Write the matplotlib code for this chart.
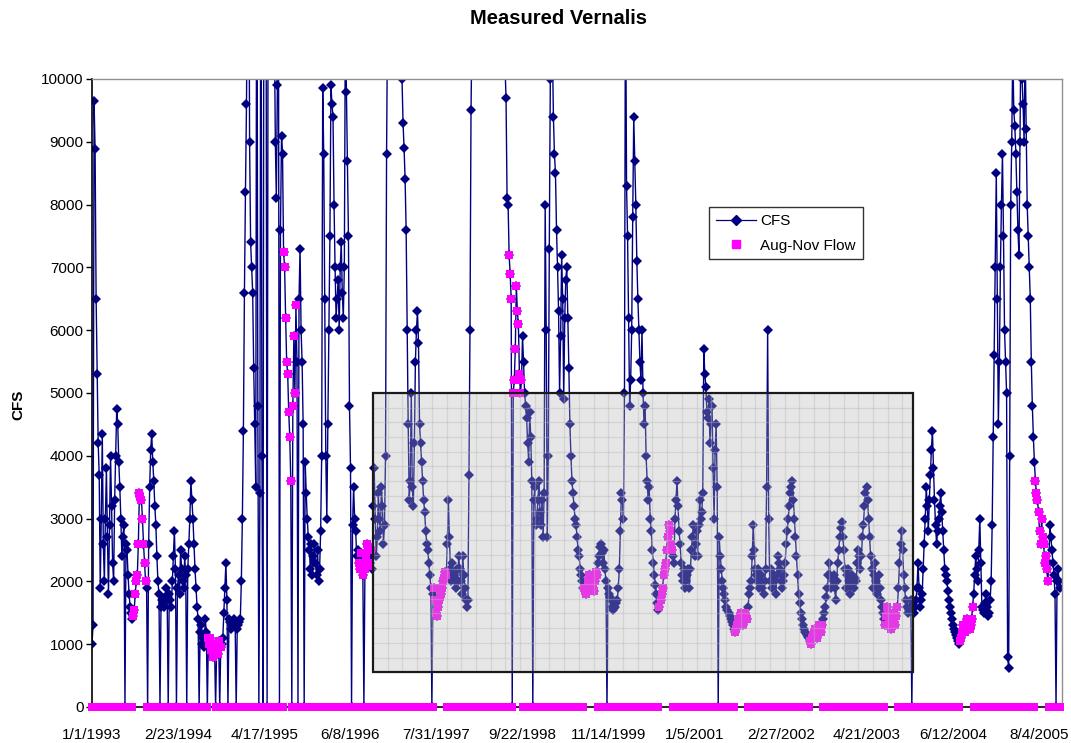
import numpy as np
import pandas as pd
import matplotlib
matplotlib.use("Agg")
import matplotlib.pyplot as plt
import matplotlib.dates as mdates
from matplotlib.patches import Rectangle
from matplotlib.lines import Line2D

# ---------------- data ----------------
title = "Measured Vernalis"
y_label = "CFS"
series_names = ["CFS", "Aug-Nov Flow"]

start_date = "1993-01-01"

# flow read every 10 days (day 0, 10, 20, ...)
cfs = [
    1000, 9650, 6500, 4200, 1900, 4350, 2000, 3800, 1800, 4000, 2300, 3300,
    4750, 3900, 3000, 2700, 0, 2500, 1800, 1500, 1450, 1800, 2100, 3400,
    3300, 2600, 2000, 0, 3500, 4350, 3600, 2900, 2000, 0, 1700, 1600,
    1900, 0, 1700, 2000, 2800, 0, 2100, 2500, 2000, 2400, 0, 2600,
    3600, 3000, 2200, 1600, 0, 1300, 1100, 1400, 0, 1000, 900, 1000,
    0, 850, 0, 1000, 1500, 2290, 0, 1350, 1300, 1400, 0, 1300,
    1400, 3000, 6600, 9600, 14000, 7400, 6600, 4500, 14000, 0, 14000, 0,
    14000, 0, 13000, 13000, 13000, 9000, 9900, 0, 9100, 7250, 6200, 5300,
    4300, 0, 5900, 6400, 0, 7300, 5500, 0, 3400, 2700, 2200, 2100,
    2600, 2100, 2000, 2800, 9850, 6500, 3000, 6000, 9900, 9400, 7000, 6500,
    6000, 7400, 6200, 11000, 8700, 4800, 0, 3500, 2800, 2500, 2200, 2300,
    0, 2400, 2500, 2300, 2200, 3800, 2400, 3400, 2800, 3200, 2900, 8800,
    14000, 20000, 25000, 20000, 16000, 13000, 11000, 9300, 8400, 6000, 3300, 5000,
    3200, 5500, 6300, 4500, 3900, 3300, 2800, 2500, 2100, 0, 1900, 1500,
    1600, 1750, 1900, 2050, 2100, 3300, 2200, 2300, 2000, 2200, 2400, 2000,
    2400, 1900, 1600, 3700, 9500, 12000, 15000, 18000, 20000, 18000, 16000, 15000,
    16000, 18000, 17000, 15000, 14000, 13000, 12000, 11000, 10500, 9700, 8000, 6900,
    0, 5200, 6700, 6100, 5000, 5900, 5000, 4600, 3900, 4300, 0, 3500,
    3000, 3600, 2900, 2700, 8000, 2700, 7300, 12000, 9400, 8500, 7000, 5000,
    7200, 4900, 6800, 6200, 4500, 3600, 3200, 2900, 2500, 2200, 2000, 1900,
    1800, 2000, 2100, 1900, 2000, 2100, 2400, 2600, 2300, 2200, 0, 1800,
    1700, 1550, 1600, 1700, 2200, 3400, 3000, 12000, 7500, 4800, 6000, 9400,
    8000, 6500, 5500, 6000, 4500, 4000, 3300, 3000, 2500, 2100, 1800, 1550,
    1700, 1900, 2200, 2500, 2900, 2600, 2400, 3000, 3600, 2800, 2300, 2000,
    1900, 2100, 1900, 2500, 2900, 2600, 2400, 3300, 3100, 5700, 5100, 4600,
    4200, 4800, 3000, 4500, 0, 2400, 2000, 1800, 1600, 1500, 1400, 1300,
    1200, 1300, 1400, 1500, 1300, 1500, 1400, 1800, 2000, 2900, 2200, 2000,
    1900, 2100, 1800, 2200, 6000, 2000, 1900, 2100, 1800, 2400, 2200, 1900,
    2100, 2600, 3000, 3400, 3600, 3000, 2400, 1800, 1500, 1300, 1200, 1150,
    1100, 1000, 1150, 1250, 1100, 1300, 1200, 1400, 1600, 1900, 2300, 1900,
    2100, 1700, 2300, 2700, 2950, 2500, 1900, 2200, 1800, 2100, 1900, 2000,
    2500, 2200, 2700, 3200, 3500, 3000, 2400, 1900, 2300, 1800, 2100, 1700,
    1500, 1300, 1600, 1400, 1250, 1500, 1300, 1600, 2300, 2800, 2100, 1700,
    1500, 1600, 0, 1500, 1700, 2300, 1600, 1800, 2600, 3500, 2800, 3700,
    4400, 3300, 2600, 3000, 3400, 2800, 2200, 2000, 1700, 1500, 1300, 1200,
    1100, 1000, 1100, 1300, 1200, 1400, 1250, 1400, 1800, 2400, 2000, 3000,
    1600, 1500, 1800, 1450, 1700, 2900, 5600, 8500, 4500, 7000, 8800, 6000,
    5000, 620, 8000, 10500, 9250, 8200, 7200, 11000, 9600, 10500, 8000, 7000,
    5500, 4300, 3600, 3300, 2800, 3000, 2600, 2400, 2000, 2900, 2500, 2100,
    0, 2200, 1900,
]

# flow read half way between those days (day 5, 15, 25, ...)
cfs_mid = [
    1300, 8880, 5300, 3700, 3000, 2600, 3000, 2700, 2900, 3200, 2000, 4000,
    4500, 3500, 2400, 2900, 2600, 2100, 1600, 1400, 1550, 2000, 2600, 3350,
    3000, 2300, 1900, 2600, 4100, 3900, 3200, 2400, 1800, 1600, 1650, 1750,
    1700, 1800, 1600, 2400, 2200, 1900, 1800, 2200, 1900, 2100, 2200, 3000,
    3300, 2600, 1900, 1400, 1200, 1000, 950, 1200, 1100, 1100, 800, 950,
    900, 1050, 950, 1100, 1900, 1700, 1400, 1250, 1350, 1300, 1250, 1350,
    2000, 4400, 8200, 12000, 9000, 7000, 5400, 3500, 4800, 3400, 4000, 14000,
    12000, 12000, 15000, 16000, 11000, 8100, 12000, 7600, 8800, 7000, 5500, 4700,
    3600, 4800, 5000, 5500, 6500, 6000, 4500, 3900, 3000, 2500, 2600, 2400,
    2300, 2500, 2200, 4000, 8800, 4000, 4500, 7500, 9600, 8000, 6200, 6800,
    7000, 6600, 7000, 9800, 7500, 3800, 2900, 3000, 2400, 2300, 2450, 2100,
    2200, 2600, 2250, 2500, 3200, 3000, 2700, 3000, 3500, 2600, 4000, 11000,
    17000, 23000, 22000, 18000, 14000, 12000, 10000, 8900, 7600, 4500, 3600, 3500,
    4200, 6000, 5800, 4200, 3600, 3100, 2600, 2300, 1900, 1800, 1700, 1450,
    1700, 1800, 2000, 2150, 2600, 2700, 2000, 2100, 1900, 2000, 2200, 1800,
    2100, 1700, 1700, 6000, 11000, 13000, 16000, 19000, 19000, 17000, 15500, 15500,
    17000, 17500, 16000, 14500, 13500, 12500, 11500, 10800, 10200, 8100, 7200, 6500,
    5000, 5700, 6300, 5300, 5200, 5500, 4800, 4200, 4700, 3600, 3300, 2900,
    3300, 3100, 3300, 3400, 6000, 4000, 10000, 10500, 8800, 7600, 6300, 5900,
    6500, 6200, 7000, 5400, 4000, 3400, 3000, 2700, 2400, 2100, 1900, 1850,
    1900, 2100, 2000, 1850, 2150, 2300, 2550, 2450, 2500, 2000, 1900, 1750,
    1600, 1580, 1650, 1900, 2800, 3300, 5000, 8300, 6200, 5200, 7800, 8700,
    7100, 6000, 5200, 5000, 4800, 3600, 3500, 2800, 2300, 1950, 1650, 1600,
    1800, 2100, 2300, 2700, 2800, 2500, 2300, 3300, 3200, 2600, 2100, 2200,
    2000, 2200, 2200, 2700, 2400, 2800, 2900, 3000, 3400, 5300, 4700, 4900,
    4500, 3800, 4100, 3500, 2700, 2200, 1900, 1700, 1550, 1450, 1350, 1250,
    1250, 1350, 1450, 1400, 1400, 1450, 1600, 1900, 2400, 2500, 2100, 2200,
    2000, 1900, 2000, 3500, 3000, 2200, 2000, 2000, 2100, 2300, 2000, 2000,
    2300, 2800, 3200, 3500, 3300, 2700, 2100, 1650, 1400, 1250, 1180, 1120,
    1050, 1100, 1200, 1150, 1200, 1250, 1300, 1500, 1750, 2100, 2100, 2000,
    1900, 2000, 2500, 2850, 2700, 2200, 2100, 2000, 1950, 2000, 2050, 2300,
    2400, 2400, 2900, 3400, 3300, 2700, 2200, 2100, 2000, 1900, 1900, 1600,
    1400, 1450, 1500, 1300, 1350, 1400, 1450, 1900, 2600, 2500, 1900, 1600,
    1550, 1700, 1600, 1600, 1900, 1900, 1700, 2200, 3000, 3200, 3300, 4100,
    3800, 2900, 2800, 3200, 3100, 2500, 2100, 1850, 1600, 1400, 1250, 1150,
    1050, 1050, 1200, 1250, 1300, 1350, 1300, 1600, 2100, 2200, 2500, 2300,
    1550, 1650, 1600, 1500, 2000, 4300, 7000, 6500, 5500, 8000, 7500, 5500,
    800, 4000, 9000, 9500, 8800, 7600, 9000, 10000, 9000, 9200, 7500, 6500,
    4800, 3900, 3400, 3100, 2600, 2700, 2300, 2200, 2300, 2700, 2300, 1800,
    2000, 2000,
]

# seasonal window (month-day) in which the pink series carries the flow
pink_window = ("07-16", "09-18")

x_tick_labels = ["1/1/1993", "2/23/1994", "4/17/1995", "6/8/1996", "7/31/1997",
                 "9/22/1998", "11/14/1999", "1/5/2001", "2/27/2002", "4/21/2003",
                 "6/12/2004", "8/4/2005"]
y_ticks = list(range(0, 10001, 1000))
x_end_date = "2005-11-23"

# highlighted box (dates / flows)
box_dates = ("1996-09-26", "2003-11-29")
box_flows = (550, 5000)

# ---------------- derived series ----------------
vals = np.empty(len(cfs) + len(cfs_mid), dtype=float)
vals[0::2] = cfs
vals[1::2] = cfs_mid
dates = pd.date_range(start_date, periods=len(vals), freq="5D")
md = dates.strftime("%m-%d")
in_win = (md >= pink_window[0]) & (md <= pink_window[1])
pink = np.where(in_win, vals, 0.0)
xd = mdates.date2num(dates.to_pydatetime())

# ---------------- figure ----------------
plt.rcParams['font.family'] = ['Liberation Sans', 'DejaVu Sans']
fig = plt.figure(figsize=(10.71, 7.43), dpi=100)
ax = fig.add_axes([92/1071, 36/743, 970/1071, 628/743])

navy = "#000080"
magenta = "#FF00FF"

ax.plot(xd, vals, color=navy, lw=1.0, marker="D", ms=5.3,
        markeredgewidth=0, zorder=2)
ax.plot(xd, pink, linestyle="none", marker="s", ms=6.2, color=magenta,
        markeredgewidth=0, zorder=3, clip_on=False)

ax.set_ylim(0, 10000)
x0 = mdates.date2num(pd.Timestamp(start_date))
x1 = mdates.date2num(pd.Timestamp(x_end_date))
ax.set_xlim(x0, x1)

ax.set_yticks(y_ticks)
ax.set_yticklabels([str(v) for v in y_ticks], fontsize=11)
tick_pos = mdates.date2num(pd.to_datetime(x_tick_labels, format="%m/%d/%Y").to_pydatetime())
ax.set_xticks(tick_pos)
ax.set_xticklabels(x_tick_labels, fontsize=11)
ax.tick_params(axis="x", length=0, pad=15)
ax.tick_params(axis="y", length=4, direction="out", width=1, pad=2)

for s in ("top", "right"):
    ax.spines[s].set_color("#909090")
    ax.spines[s].set_linewidth(1.0)
for s in ("left", "bottom"):
    ax.spines[s].set_color("black")
    ax.spines[s].set_linewidth(1.2)

# highlighted box with fine grid
bx0 = mdates.date2num(pd.Timestamp(box_dates[0]))
bx1 = mdates.date2num(pd.Timestamp(box_dates[1]))
rect = Rectangle((bx0, box_flows[0]), bx1 - bx0, box_flows[1] - box_flows[0],
                 facecolor=(0.70, 0.70, 0.70), alpha=0.32, edgecolor="none", zorder=4)
ax.add_patch(rect)
gx = bx0 + 71.4
while gx < bx1:
    ax.plot([gx, gx], box_flows, color=(0.72, 0.72, 0.72), alpha=0.4, lw=0.9, zorder=4.1)
    gx += 71.4
gy = box_flows[1] - 234
while gy > box_flows[0]:
    ax.plot([bx0, bx1], [gy, gy], color=(0.72, 0.72, 0.72), alpha=0.4, lw=0.9, zorder=4.1)
    gy -= 234
ax.add_patch(Rectangle((bx0, box_flows[0]), bx1 - bx0, box_flows[1] - box_flows[0],
                       facecolor="none", edgecolor="#1a1a1a", lw=1.6, zorder=4.2))

# legend
handles = [Line2D([0], [0], color=navy, lw=0.9, marker="D", ms=5),
           Line2D([0], [0], color=magenta, lw=0, marker="s", ms=5.5)]
leg = ax.legend(handles, series_names, loc="upper left",
                bbox_to_anchor=((709-92)/970, (707-207)/628), borderaxespad=0,
                frameon=True, fancybox=False, fontsize=11, handlelength=2.6,
                borderpad=0.45, labelspacing=0.7, handletextpad=0.3)
leg.get_frame().set_edgecolor("black")
leg.get_frame().set_linewidth(1.0)
leg.set_zorder(6)

fig.text(558/1071, 1 - 18/743, title, ha="center", va="center",
         fontsize=14.5, fontweight="bold")
fig.text(18/1071, 1 - 405/743, y_label, ha="center", va="center",
         rotation=90, fontsize=11, fontweight="bold")

fig.savefig("out.png", dpi=100)
